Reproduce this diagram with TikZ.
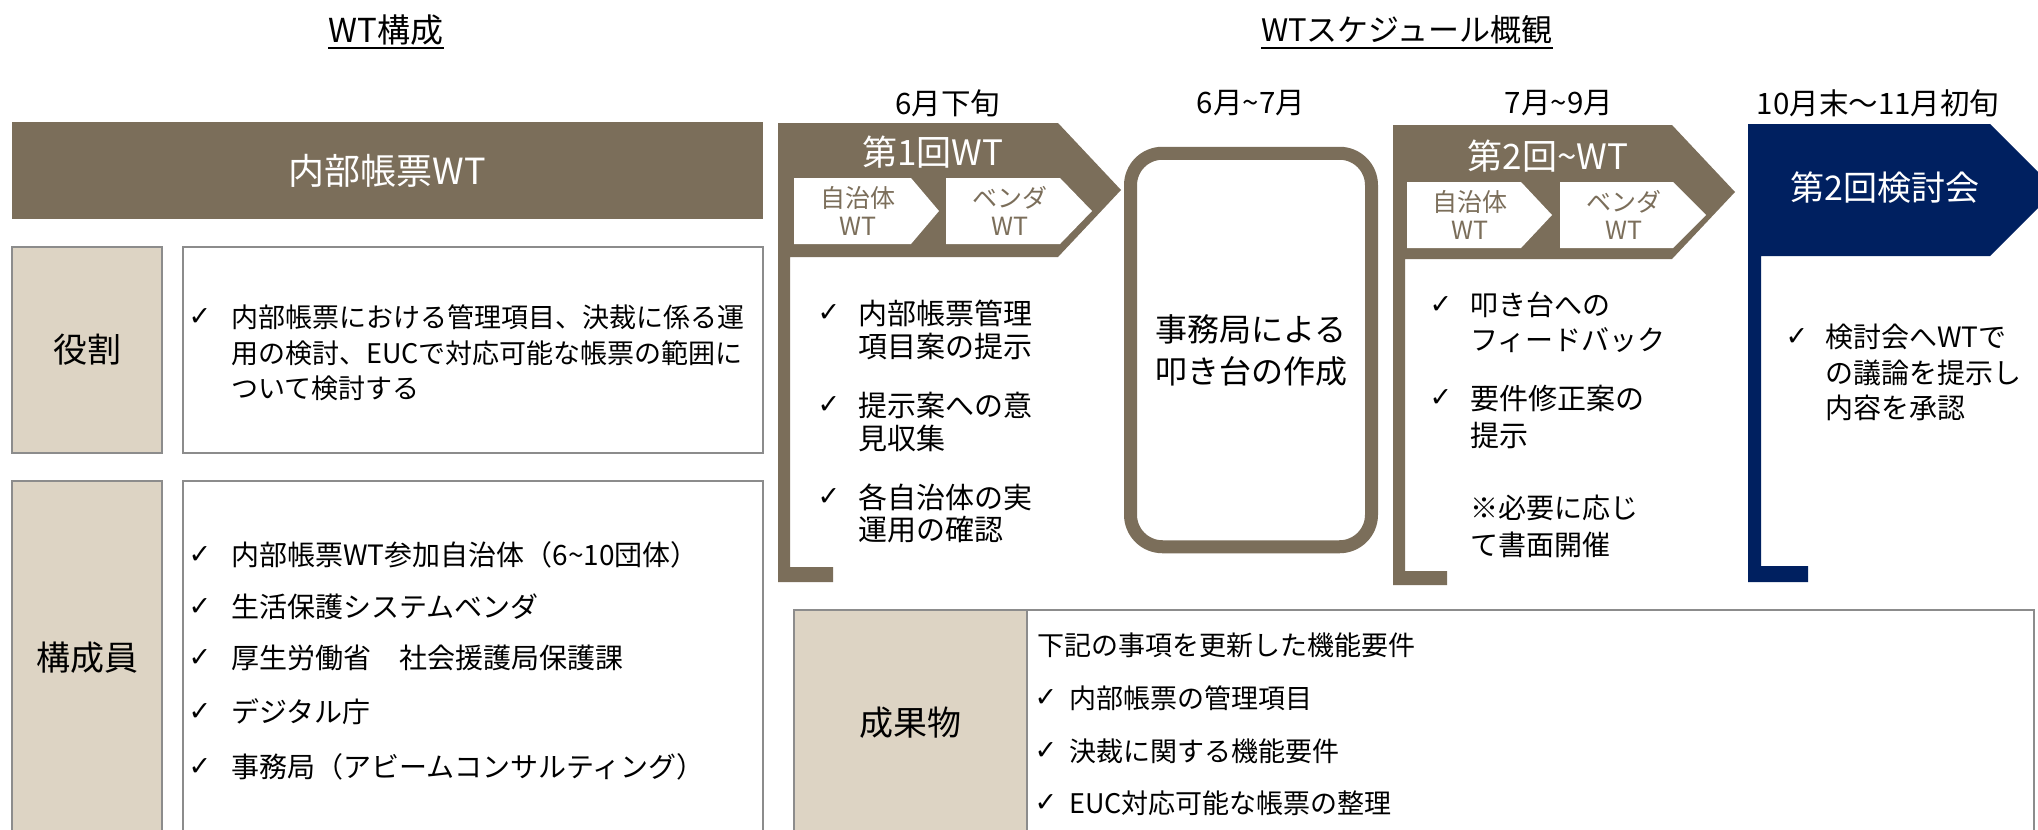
\documentclass[tikz,border=0pt]{standalone}
\usepackage{fontspec}
\setmainfont{Noto Sans CJK JP}
\newfontfamily\chkfont{DejaVu Sans}
\definecolor{wtbrown}{RGB}{123,110,90}
\definecolor{wtbeige}{RGB}{221,212,196}
\definecolor{wtnavy}{RGB}{0,32,96}
\definecolor{wtgray}{RGB}{140,140,140}
\tikzset{
  t27/.style={font=\fontsize{27}{32}\selectfont, inner sep=0, anchor=west},
  t28/.style={font=\fontsize{28}{36}\selectfont, inner sep=0, anchor=west},
  t29/.style={font=\fontsize{29}{36}\selectfont, inner sep=0, anchor=west},
  ck/.style={font=\chkfont\fontsize{27}{30}\selectfont, inner sep=0},
  box/.style={draw=wtgray, line width=1.5, inner sep=0},
  lab/.style={box, fill=wtbeige, font=\fontsize{34}{40}\selectfont},
  month/.style={font=\fontsize{29.5}{34}\selectfont, inner sep=0},
  ttl/.style={font=\fontsize{31}{36}\selectfont, inner sep=0},
  chevtxt/.style={text=wtbrown, font=\fontsize{25}{28}\selectfont, align=center, inner sep=0},
  head/.style={text=white, font=\fontsize{35}{40}\selectfont, inner sep=0},
}
\begin{document}
\begin{tikzpicture}[x=1pt,y=-1pt]
\useasboundingbox (0,0) rectangle (2038,830);
\clip (0,0) rectangle (2038,830);
\fill[white] (0,0) rectangle (2038,830);

% titles
\coordinate (ul) at (0,48);
\node[ttl, font=\fontsize{33}{36}\selectfont] (t1) at (386,30) {WT構成};
\draw[line width=1.8] (t1.west |- ul) -- (t1.east |- ul);
\node[ttl] (t2) at (1407,30) {WTスケジュール概観};
\draw[line width=1.8] (t2.west |- ul) -- (t2.east |- ul);

% ---------- left column ----------
\node[fill=wtbrown, minimum width=751, minimum height=97, inner sep=0,
      text=white, font=\fontsize{36}{40}\selectfont] (hdr) at (387.5,170.5) {内部帳票WT};

\node[lab, minimum width=150, minimum height=206] (role) at (87,350) {役割};
\node[box, minimum width=580, minimum height=206] (rolebox) at (473,350) {};
\node[ck] (rc1) at (200,317) {✓};
\node[t27] (rt1) at (231,317) {内部帳票における管理項目、決裁に係る運};
\node[t27] (rt2) at (231,353) {用の検討、EUCで対応可能な帳票の範囲に};
\node[t27] (rt3) at (231,388) {ついて検討する};

\node[lab, minimum width=150, minimum height=354] (mem) at (87,658) {構成員};
\node[box, minimum width=580, minimum height=354] (membox) at (473,658) {};
\node[ck] (mc1) at (200,555) {✓};
\node[t28] (mt1) at (231,555) {内部帳票WT参加自治体（6\textasciitilde 10団体）};
\node[ck] (mc2) at (200,607) {✓};
\node[t28] (mt2) at (231,607) {生活保護システムベンダ};
\node[ck] (mc3) at (200,658) {✓};
\node[t28] (mt3) at (231,658) {厚生労働省　社会援護局保護課};
\node[ck] (mc4) at (200,712) {✓};
\node[t28] (mt4) at (231,712) {デジタル庁};
\node[ck] (mc5) at (200,767) {✓};
\node[t28] (mt5) at (231,767) {事務局（アビームコンサルティング）};

% ---------- schedule ----------
\node[month] (m1) at (948,103) {6月下旬};
\node[month] (m2) at (1251,103) {6月\textasciitilde 7月};
\node[month] (m3) at (1559,103) {7月\textasciitilde 9月};
\node[month] (m4) at (1878,103) {10月末～11月初旬};

% phase 1
\fill[wtbrown] (778,123) -- (1058,123) -- (1121,190) -- (1058,257) -- (790,257)
  -- (790,567) -- (833,567) -- (833,582) -- (778,582) -- cycle;
\node[head] (p1) at (933,152) {第1回WT};
\fill[white] (794,178) -- (911,178) -- (939,211) -- (911,244) -- (794,244) -- cycle;
\fill[white] (946,178) -- (1060,178) -- (1092,211) -- (1060,244) -- (946,244) -- cycle;
\node[chevtxt] (p1a) at (858,211) {自治体\\WT};
\node[chevtxt] (p1b) at (1010,211) {ベンダ\\WT};
\node[ck] (ac1) at (829,313) {✓};
\node[t29] (at1) at (858,313) {内部帳票管理};
\node[t29] (at2) at (858,347) {項目案の提示};
\node[ck] (ac2) at (829,405) {✓};
\node[t29] (at3) at (858,405) {提示案への意};
\node[t29] (at4) at (858,438) {見収集};
\node[ck] (ac3) at (829,497) {✓};
\node[t29] (at5) at (858,497) {各自治体の実};
\node[t29] (at6) at (858,530) {運用の確認};

% secretariat
\node[draw=wtbrown, line width=13, rounded corners=32, minimum width=241, minimum height=393.5,
      align=center, inner sep=0, font=\fontsize{32}{42}\selectfont] (sec) at (1251,350) {事務局による\\叩き台の作成};

% phase 2
\fill[wtbrown] (1393,125) -- (1672,125) -- (1735,192) -- (1672,259) -- (1405,259)
  -- (1405,571) -- (1447,571) -- (1447,585) -- (1393,585) -- cycle;
\node[head] (p2) at (1548,156) {第2回\textasciitilde WT};
\fill[white] (1407,182) -- (1521,182) -- (1552,215) -- (1521,248) -- (1407,248) -- cycle;
\fill[white] (1560,182) -- (1673,182) -- (1706,215) -- (1673,248) -- (1560,248) -- cycle;
\node[chevtxt] (p2a) at (1470,215) {自治体\\WT};
\node[chevtxt] (p2b) at (1624,215) {ベンダ\\WT};
\node[ck] (bc1) at (1441,305) {✓};
\node[t28] (bt1) at (1470,305) {叩き台への};
\node[t28] (bt2) at (1470,340) {フィードバック};
\node[ck] (bc2) at (1441,398) {✓};
\node[t29] (bt3) at (1470,398) {要件修正案の};
\node[t29] (bt4) at (1470,435) {提示};
\node[t28] (bt5) at (1470,508) {※必要に応じ};
\node[t28] (bt6) at (1470,545) {て書面開催};

% review meeting
\fill[wtnavy] (1748,124) -- (1990,124) -- (2056,190) -- (1990,256) -- (1761,256)
  -- (1761,566) -- (1808,566) -- (1808,582) -- (1748,582) -- cycle;
\node[text=white, font=\fontsize{34}{40}\selectfont, inner sep=0] (p3) at (1885,188) {第2回検討会};
\node[ck] (cc1) at (1797,337) {✓};
\node[t28] (ct1) at (1825,337) {検討会へWTで};
\node[t28] (ct2) at (1825,373) {の議論を提示し};
\node[t28] (ct3) at (1825,408) {内容を承認};

% deliverables
\node[lab, minimum width=233, minimum height=225] (del) at (910.5,722.5) {成果物};
\node[box, minimum width=1007, minimum height=225] (delbox) at (1530.5,722.5) {};
\node[t27] (dt0) at (1037,645) {下記の事項を更新した機能要件};
\node[ck] (dc1) at (1046,698) {✓};
\node[t27] (dt1) at (1069,698) {内部帳票の管理項目};
\node[ck] (dc2) at (1046,751) {✓};
\node[t27] (dt2) at (1069,751) {決裁に関する機能要件};
\node[ck] (dc3) at (1046,803) {✓};
\node[t27] (dt3) at (1069,803) {EUC対応可能な帳票の整理};
\end{tikzpicture}
\end{document}
